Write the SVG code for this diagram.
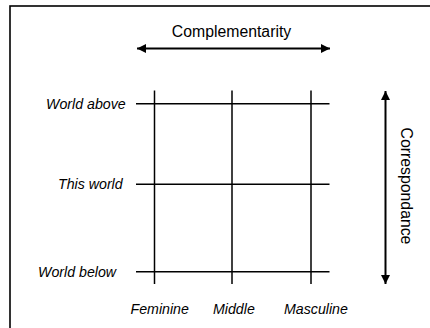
<svg xmlns="http://www.w3.org/2000/svg" width="430" height="328" viewBox="0 0 430 328">
<style>
.grid{stroke:#000;stroke-width:1.5;fill:none}
.arr{stroke:#000;stroke-width:2;fill:none}
.lbl{font-family:"Liberation Sans",Arial,sans-serif;font-style:italic;font-size:14.2px;fill:#000}
.ttl{font-family:"Liberation Sans",Arial,sans-serif;font-size:15.8px;fill:#000}
</style>
<defs>
<marker id="ah" viewBox="0 0 10 10" refX="10" refY="5" markerWidth="5" markerHeight="4.5" markerUnits="strokeWidth" orient="auto-start-reverse">
<path d="M0,0 L10,5 L0,10 Z" fill="#000"/>
</marker>
</defs>
<rect x="0" y="0" width="430" height="328" fill="#fff"/>
<rect id="frame" x="10" y="6" width="440" height="340" fill="none" stroke="#000" stroke-width="1.6"/>
<g id="connectors">
<line class="arr" x1="137" y1="48.5" x2="330" y2="48.5" marker-start="url(#ah)" marker-end="url(#ah)"/>
<line class="arr" x1="385.5" y1="91" x2="385.5" y2="284" marker-start="url(#ah)" marker-end="url(#ah)"/>
</g>
<g id="grid">
<line class="grid" x1="136" y1="103.7" x2="329.5" y2="103.7"/>
<line class="grid" x1="136" y1="184.3" x2="329.5" y2="184.3"/>
<line class="grid" x1="136" y1="271.7" x2="329.5" y2="271.7"/>
<line class="grid" x1="154.5" y1="90.5" x2="154.5" y2="284"/>
<line class="grid" x1="232" y1="90.5" x2="232" y2="284"/>
<line class="grid" x1="311" y1="90.5" x2="311" y2="284"/>
</g>
<g id="complementarity"><text class="ttl" x="231.5" y="37" text-anchor="middle">Complementarity</text></g>
<g id="correspondance"><text class="ttl" transform="translate(400.5,186) rotate(90)" text-anchor="middle">Correspondance</text></g>
<g id="world-above"><text class="lbl" x="46" y="109">World above</text></g>
<g id="this-world"><text class="lbl" x="58" y="189.3">This world</text></g>
<g id="world-below"><text class="lbl" x="38" y="276.7">World below</text></g>
<g id="feminine"><text class="lbl" x="130.5" y="314">Feminine</text></g>
<g id="middle"><text class="lbl" x="213" y="314">Middle</text></g>
<g id="masculine"><text class="lbl" x="284" y="314">Masculine</text></g>
</svg>
